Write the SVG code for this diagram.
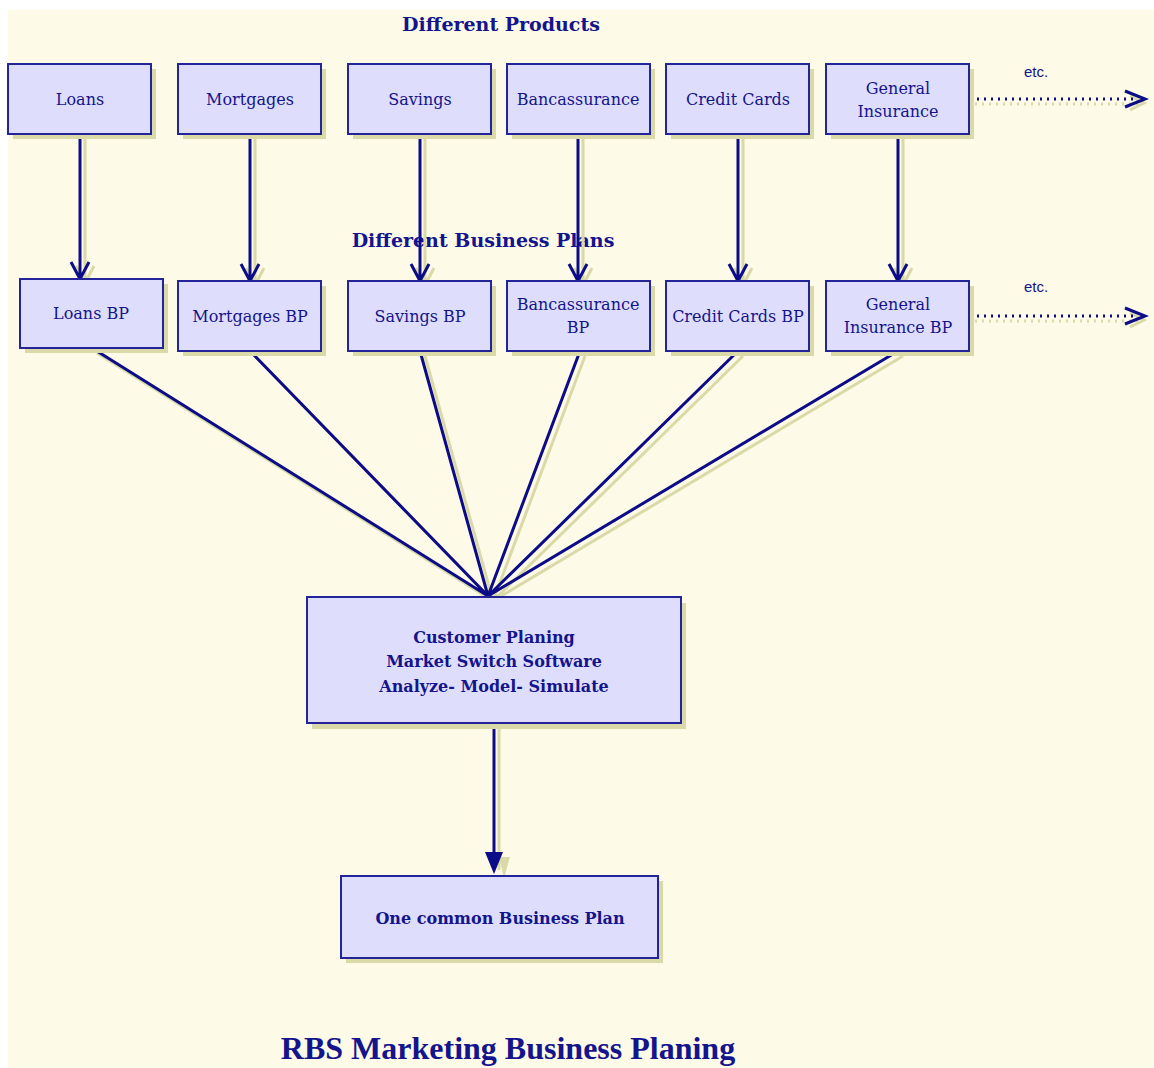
<svg xmlns="http://www.w3.org/2000/svg" width="1154" height="1068" viewBox="0 0 1154 1068">
<defs>
<style>
.bx{fill:#dedefc;stroke:#24249a;stroke-width:2}
.sh{fill:#dadaa8}
.t{font-family:"DejaVu Serif","Liberation Serif",serif;font-size:16px;fill:#14148c;text-anchor:middle}
.b{font-family:"DejaVu Serif","Liberation Serif",serif;font-weight:bold;fill:#14148c;text-anchor:middle}
.r{font-family:"Liberation Serif","DejaVu Serif",serif;font-weight:bold;fill:#14148c;text-anchor:middle}
.e{font-family:"Liberation Sans",sans-serif;font-size:15px;fill:#14148c;text-anchor:middle}
.ln{stroke:#0c0c88;stroke-width:3;fill:none}
.ls{stroke:#dadaa8;stroke-width:3;fill:none}
.dt{stroke:#0c0c88;stroke-width:3;fill:none;stroke-dasharray:2 5}
.ds{stroke:#dadaa8;stroke-width:3;fill:none;stroke-dasharray:2 5}
</style>
</defs>
<rect x="0" y="0" width="1154" height="1068" fill="#ffffff"/>
<rect x="8" y="10" width="1146" height="1058" fill="#fdfae8"/>
<text class="b" x="501" y="31" font-size="19">Different Products</text>
<text class="b" x="483" y="247" font-size="19">Different Business Plans</text>
<text class="r" x="508" y="1059" font-size="32">RBS Marketing Business Planing</text>
<text class="e" x="1036" y="77">etc.</text>
<text class="e" x="1036" y="292">etc.</text>

<g id="connectors">
<g class="ls">
<path d="M85 139V281M76 266l9 17 9-17"/>
<path d="M255 139V283M246 268l9 17 9-17"/>
<path d="M425 139V283M416 268l9 17 9-17"/>
<path d="M583 139V283M574 268l9 17 9-17"/>
<path d="M743 139V283M734 268l9 17 9-17"/>
<path d="M903 139V283M894 268l9 17 9-17"/>
<path d="M97 353L493 601M255 356L493 601M425 356L493 601M585 356L493 601M743 356L493 601M903 356L493 601"/>
<path d="M499 727V870"/>
<path d="M1130 96l14 7-14 7"/>
<path d="M1130 313l14 7-14 7"/>
</g>
<path class="ds" d="M975 104H1140M975 321H1140"/>
<g class="ln">
<path d="M80 135V278M71 262l9 17 9-17"/>
<path d="M250 135V280M241 264l9 17 9-17"/>
<path d="M420 135V280M411 264l9 17 9-17"/>
<path d="M578 135V280M569 264l9 17 9-17"/>
<path d="M738 135V280M729 264l9 17 9-17"/>
<path d="M898 135V280M889 264l9 17 9-17"/>
<path d="M92 348L488 596M250 351L488 596M420 351L488 596M580 351L488 596M738 351L488 596M898 351L488 596"/>
<path d="M494 723V860"/>
<path d="M1125 91l20 8-20 8"/>
<path d="M1125 308l20 8-20 8"/>
</g>
<path d="M499 857l11 0-6 21z" fill="#dadaa8"/>
<path d="M485 852h18l-9 22z" fill="#0c0c88"/>
<path class="dt" d="M970 99H1138M970 316H1138"/>
</g>

<g id="n-loans"><rect class="sh" x="13" y="69" width="143" height="70"/><rect class="bx" x="8" y="64" width="143" height="70"/><text class="t" x="80" y="105">Loans</text></g>
<g id="n-mortgages"><rect class="sh" x="183" y="69" width="143" height="70"/><rect class="bx" x="178" y="64" width="143" height="70"/><text class="t" x="250" y="105">Mortgages</text></g>
<g id="n-savings"><rect class="sh" x="353" y="69" width="143" height="70"/><rect class="bx" x="348" y="64" width="143" height="70"/><text class="t" x="420" y="105">Savings</text></g>
<g id="n-banc"><rect class="sh" x="512" y="69" width="143" height="70"/><rect class="bx" x="507" y="64" width="143" height="70"/><text class="t" x="578" y="105">Bancassurance</text></g>
<g id="n-cc"><rect class="sh" x="671" y="69" width="143" height="70"/><rect class="bx" x="666" y="64" width="143" height="70"/><text class="t" x="738" y="105">Credit Cards</text></g>
<g id="n-gi"><rect class="sh" x="831" y="69" width="143" height="70"/><rect class="bx" x="826" y="64" width="143" height="70"/><text class="t" x="898" y="94">General</text><text class="t" x="898" y="117">Insurance</text></g>

<g id="n-loansbp"><rect class="sh" x="25" y="284" width="143" height="69"/><rect class="bx" x="20" y="279" width="143" height="69"/><text class="t" x="91" y="319">Loans BP</text></g>
<g id="n-mortbp"><rect class="sh" x="183" y="286" width="143" height="70"/><rect class="bx" x="178" y="281" width="143" height="70"/><text class="t" x="250" y="322">Mortgages BP</text></g>
<g id="n-savbp"><rect class="sh" x="353" y="286" width="143" height="70"/><rect class="bx" x="348" y="281" width="143" height="70"/><text class="t" x="420" y="322">Savings BP</text></g>
<g id="n-bancbp"><rect class="sh" x="512" y="286" width="143" height="70"/><rect class="bx" x="507" y="281" width="143" height="70"/><text class="t" x="578" y="310">Bancassurance</text><text class="t" x="578" y="333">BP</text></g>
<g id="n-ccbp"><rect class="sh" x="671" y="286" width="143" height="70"/><rect class="bx" x="666" y="281" width="143" height="70"/><text class="t" x="738" y="322">Credit Cards BP</text></g>
<g id="n-gibp"><rect class="sh" x="831" y="286" width="143" height="70"/><rect class="bx" x="826" y="281" width="143" height="70"/><text class="t" x="898" y="310">General</text><text class="t" x="898" y="333">Insurance BP</text></g>

<g id="n-cust"><rect class="sh" x="312" y="603" width="374" height="126"/><rect class="bx" x="307" y="597" width="374" height="126"/><text class="b" x="494" y="643" font-size="16">Customer Planing</text><text class="b" x="494" y="667" font-size="16">Market Switch Software</text><text class="b" x="494" y="692" font-size="16">Analyze- Model- Simulate</text></g>
<g id="n-one"><rect class="sh" x="346" y="881" width="317" height="82"/><rect class="bx" x="341" y="876" width="317" height="82"/><text class="b" x="500" y="924" font-size="16">One common Business Plan</text></g>
</svg>
